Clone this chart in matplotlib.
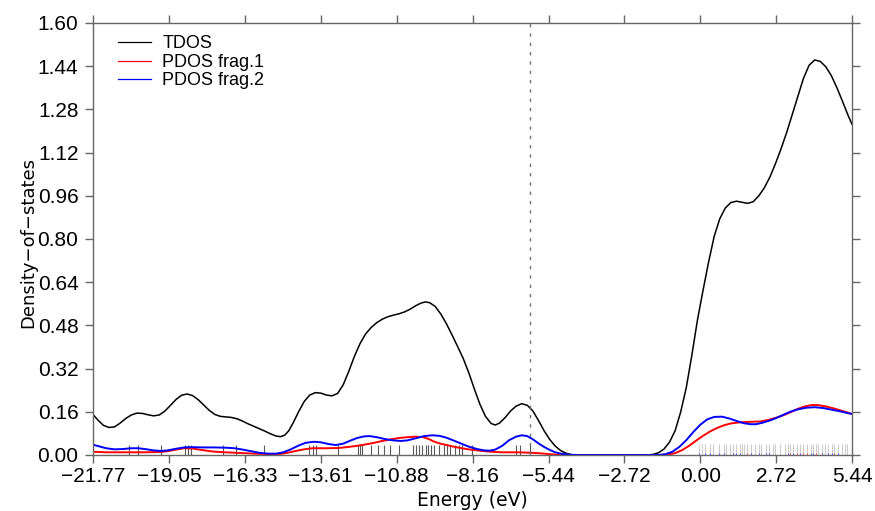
import numpy as np
import matplotlib
matplotlib.use("Agg")
import matplotlib.pyplot as plt

# curves (energy in eV, DOS)
tdos_e = [-21.77, -21.60, -21.40, -21.20, -21.00, -20.80, -20.60, -20.40, -20.20, -20.00,
          -19.80, -19.60, -19.40, -19.20, -19.00, -18.80, -18.60, -18.40, -18.20, -18.00,
          -17.80, -17.60, -17.40, -17.20, -17.00, -16.80, -16.60, -16.40, -16.20, -16.00,
          -15.80, -15.60, -15.40, -15.20, -15.05, -14.90, -14.75, -14.60, -14.40, -14.20,
          -14.00, -13.80, -13.60, -13.40, -13.20, -13.00, -12.80, -12.60, -12.40, -12.20,
          -12.00, -11.80, -11.60, -11.40, -11.20, -11.00, -10.80, -10.60, -10.40, -10.20,
          -10.00, -9.85, -9.70, -9.50, -9.30, -9.10, -8.90, -8.70, -8.50, -8.30,
          -8.10, -7.90, -7.70, -7.50, -7.35, -7.20, -7.00, -6.80, -6.60, -6.40,
          -6.20, -6.00, -5.80, -5.60, -5.40, -5.20, -5.00, -4.80, -4.60, -4.40,
          -1.90, -1.70, -1.50, -1.30, -1.10, -0.90, -0.70, -0.50, -0.30, -0.10,
          0.10, 0.30, 0.50, 0.70, 0.90, 1.10, 1.30, 1.50, 1.70, 1.90,
          2.10, 2.30, 2.50, 2.70, 2.90, 3.10, 3.30, 3.50, 3.70, 3.90,
          4.10, 4.30, 4.50, 4.70, 4.90, 5.10, 5.30, 5.44]
tdos_y = [0.150, 0.130, 0.110, 0.102, 0.104, 0.118, 0.135, 0.148, 0.155, 0.154,
          0.149, 0.145, 0.148, 0.162, 0.183, 0.205, 0.221, 0.226, 0.220, 0.205,
          0.185, 0.165, 0.150, 0.143, 0.141, 0.139, 0.134, 0.125, 0.115, 0.106,
          0.097, 0.088, 0.078, 0.070, 0.068, 0.073, 0.090, 0.118, 0.160, 0.198,
          0.222, 0.231, 0.229, 0.222, 0.219, 0.228, 0.260, 0.310, 0.365, 0.412,
          0.448, 0.472, 0.490, 0.503, 0.512, 0.518, 0.523, 0.530, 0.540, 0.553,
          0.563, 0.567, 0.564, 0.550, 0.522, 0.486, 0.445, 0.402, 0.358, 0.305,
          0.245, 0.188, 0.143, 0.117, 0.111, 0.118, 0.138, 0.163, 0.181, 0.190,
          0.184, 0.163, 0.128, 0.090, 0.058, 0.033, 0.016, 0.006, 0.001, 0.000,
          0.000, 0.002, 0.008, 0.022, 0.048, 0.090, 0.160, 0.250, 0.370, 0.500,
          0.610, 0.715, 0.810, 0.875, 0.915, 0.935, 0.940, 0.936, 0.932, 0.938,
          0.960, 0.990, 1.030, 1.080, 1.135, 1.195, 1.262, 1.330, 1.395, 1.443,
          1.463, 1.458, 1.438, 1.405, 1.360, 1.310, 1.258, 1.225]

frag1_e = [-21.77, -21.30, -20.60, -19.90, -19.40, -19.10, -18.80, -18.50, -18.20, -17.90,
           -17.50, -17.06, -16.60, -16.00, -15.40, -15.05, -14.80, -14.50, -14.20, -13.90,
           -13.40, -12.95, -12.60, -12.30, -12.00, -11.70, -11.40, -11.10, -10.80, -10.50,
           -10.20, -9.95, -9.75, -9.55, -9.35, -9.10, -8.85, -8.55, -8.25, -7.90,
           -7.50, -7.10, -6.50, -6.00, -5.70, -5.40, -5.00, -1.40, -1.15, -0.90,
           -0.65, -0.40, -0.15, 0.10, 0.35, 0.60, 0.85, 1.10, 1.43, 1.80,
           2.15, 2.45, 2.75, 3.00, 3.25, 3.50, 3.75, 4.00, 4.20, 4.45,
           4.77, 5.10, 5.44]
frag1_y = [0.012, 0.010, 0.010, 0.010, 0.011, 0.014, 0.020, 0.025, 0.024, 0.019,
           0.013, 0.010, 0.008, 0.005, 0.003, 0.004, 0.008, 0.015, 0.021, 0.025,
           0.025, 0.026, 0.030, 0.034, 0.039, 0.045, 0.052, 0.058, 0.063, 0.066,
           0.068, 0.066, 0.060, 0.050, 0.043, 0.037, 0.031, 0.025, 0.020, 0.016,
           0.012, 0.010, 0.010, 0.008, 0.006, 0.003, 0.000, 0.000, 0.002, 0.007,
           0.018, 0.034, 0.053, 0.071, 0.087, 0.100, 0.110, 0.117, 0.121, 0.123,
           0.124, 0.130, 0.139, 0.148, 0.159, 0.171, 0.180, 0.185, 0.185, 0.181,
           0.173, 0.163, 0.152]

frag2_e = [-21.77, -21.55, -21.30, -21.00, -20.70, -20.40, -20.15, -19.90, -19.60, -19.33,
           -19.10, -18.80, -18.50, -18.20, -17.80, -17.40, -17.00, -16.70, -16.40, -16.10,
           -15.80, -15.50, -15.20, -14.95, -14.70, -14.40, -14.15, -13.85, -13.60, -13.30,
           -13.06, -12.80, -12.55, -12.30, -12.05, -11.85, -11.60, -11.30, -11.00, -10.74,
           -10.50, -10.20, -9.90, -9.60, -9.35, -9.10, -8.85, -8.59, -8.30, -8.00,
           -7.75, -7.55, -7.35, -7.10, -6.85, -6.60, -6.40, -6.20, -6.00, -5.80,
           -5.60, -5.40, -5.20, -5.00, -4.70, -4.40, -1.50, -1.25, -1.00, -0.75,
           -0.50, -0.25, 0.00, 0.25, 0.50, 0.78, 1.05, 1.30, 1.55, 1.80,
           2.00, 2.25, 2.50, 2.75, 3.00, 3.25, 3.50, 3.80, 4.10, 4.40,
           4.70, 5.00, 5.25, 5.44]
frag2_y = [0.038, 0.032, 0.025, 0.021, 0.022, 0.025, 0.025, 0.022, 0.017, 0.015,
           0.017, 0.023, 0.028, 0.029, 0.028, 0.028, 0.027, 0.025, 0.020, 0.014,
           0.008, 0.005, 0.005, 0.010, 0.020, 0.035, 0.045, 0.049, 0.047, 0.040,
           0.037, 0.042, 0.053, 0.063, 0.069, 0.070, 0.066, 0.059, 0.054, 0.052,
           0.054, 0.062, 0.070, 0.073, 0.071, 0.064, 0.054, 0.043, 0.031, 0.022,
           0.017, 0.016, 0.020, 0.034, 0.055, 0.068, 0.073, 0.070, 0.058, 0.043,
           0.030, 0.019, 0.010, 0.005, 0.001, 0.000, 0.000, 0.003, 0.012, 0.030,
           0.055, 0.085, 0.112, 0.132, 0.141, 0.142, 0.135, 0.126, 0.118, 0.114,
           0.114, 0.120, 0.128, 0.138, 0.150, 0.161, 0.169, 0.175, 0.177, 0.174,
           0.168, 0.162, 0.156, 0.152]

# discrete orbital levels (sticks)
occ_levels = [-20.47, -20.15, -19.33, -18.49, -18.37, -18.25, -17.11, -16.64, -15.64, -14.03,
              -13.87, -13.78, -13.00, -12.27, -12.19, -12.11, -11.80, -11.56, -11.35, -11.12,
              -10.80, -10.29, -10.20, -10.10, -9.97, -9.84, -9.76, -9.65, -9.55, -9.37,
              -9.18, -9.09, -8.97, -8.80, -8.65, -8.55, -8.20, -6.62, -6.46, -6.09]
vir_levels = [-0.06, 0.06, 0.18, 0.36, 0.45, 0.69, 0.84, 0.93, 1.05, 1.17,
              1.29, 1.41, 1.49, 1.57, 1.67, 1.83, 1.97, 2.09, 2.18, 2.36,
              2.48, 2.60, 2.68, 2.86, 3.04, 3.16, 3.22, 3.34, 3.46, 3.58,
              3.70, 3.82, 3.96, 4.06, 4.15, 4.23, 4.36, 4.47, 4.59, 4.71,
              4.80, 4.95, 5.07, 5.19, 5.27]
vir_frag2_h = [0.006, 0.0, 0.008, 0.006, 0.0, 0.008, 0.006, 0.0, 0.0, 0.006,
               0.008, 0.006, 0.0, 0.0, 0.0, 0.006, 0.0, 0.006, 0.0, 0.008,
               0.006, 0.0, 0.0, 0.0, 0.0, 0.008, 0.0, 0.006, 0.0, 0.006,
               0.0, 0.0, 0.006, 0.006, 0.0, 0.0, 0.006, 0.0, 0.006, 0.006,
               0.0, 0.006, 0.0, 0.0, 0.0]
vir_frag1_h = [0.0, 0.0, 0.0, 0.0, 0.0, 0.0, 0.0, 0.0, 0.0, 0.0,
               0.0, 0.0, 0.0, 0.0, 0.008, 0.0, 0.0, 0.0, 0.0, 0.0,
               0.0, 0.0, 0.0, 0.0, 0.0, 0.0, 0.006, 0.0, 0.006, 0.0,
               0.006, 0.006, 0.0, 0.0, 0.006, 0.0, 0.0, 0.0, 0.0, 0.0,
               0.006, 0.0, 0.0, 0.0, 0.0]
occ_stick_h = 0.037
vir_stick_h = 0.040
homo = -6.09

xticks = [-21.77, -19.05, -16.33, -13.61, -10.88, -8.16, -5.44, -2.72, 0.00, 2.72, 5.44]
yticks = [0.00, 0.16, 0.32, 0.48, 0.64, 0.80, 0.96, 1.12, 1.28, 1.44, 1.60]

plt.rcParams['font.family'] = ['Liberation Sans', 'DejaVu Sans']

fig = plt.figure(figsize=(8.75, 5.11), dpi=100)
ax = fig.add_axes([0.1063, 0.1096, 0.8674, 0.8454])

# sticks
ax.vlines(occ_levels, 0, occ_stick_h, color='0.35', lw=0.8)
ax.vlines(vir_levels, 0, vir_stick_h, color='0.8', lw=0.8)
ax.vlines(vir_levels, 0, vir_frag2_h, color='#6060ff', lw=0.8)
ax.vlines(vir_levels, 0, vir_frag1_h, color='#ff6060', lw=0.8)

ax.plot(tdos_e, tdos_y, color='black', lw=1.1, label='TDOS')
ax.plot(frag1_e, frag1_y, color='red', lw=1.4, label='PDOS frag.1')
ax.plot(frag2_e, frag2_y, color='blue', lw=1.4, label='PDOS frag.2')

ax.axvline(homo, color='0.45', lw=1.0, ls=(0, (2.4, 4.3)))

ax.set_xlim(xticks[0], xticks[-1])
ax.set_ylim(0, 1.60)
ax.set_xticks(xticks)
ax.set_xticklabels([('%.2f' % v).replace('-', '\u2212') for v in xticks])
ax.set_yticks(yticks)
ax.set_yticklabels(['%.2f' % v for v in yticks])

ax.tick_params(axis='both', which='major', direction='out', length=6, width=1,
               color='0.4', labelsize=15, pad=3,
               top=True, right=True, labeltop=False, labelright=False)
ax.tick_params(axis='y', pad=4.5)
for sp in ax.spines.values():
    sp.set_color('0.4')
    sp.set_linewidth(1.0)

ax.set_xlabel('Energy (eV)', fontsize=13.5, family='DejaVu Sans', labelpad=3.5)
ax.set_ylabel('Density\u2212of\u2212states', fontsize=13, family='DejaVu Sans')
ax.yaxis.set_label_coords(-0.074, 0.492)

leg = ax.legend(loc='upper left', bbox_to_anchor=(0.0235, 0.988), frameon=False,
                fontsize=13, handlelength=1.85, handletextpad=0.6,
                labelspacing=0.08, borderaxespad=0.0, borderpad=0.4)
for line in leg.get_lines():
    line.set_linewidth(0.9)

fig.savefig('out.png', dpi=100)
